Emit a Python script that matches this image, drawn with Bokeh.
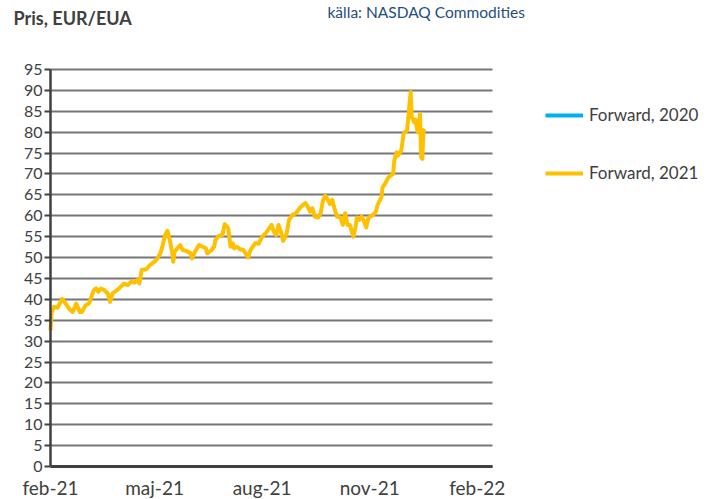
import pandas as pd
from bokeh.plotting import figure
from bokeh.models import (Range1d, FixedTicker, Legend, LegendItem, Label, ColumnDataSource)
from bokeh.embed import file_html
from bokeh.resources import INLINE

# ---- data ----
dates_2021 = [
    "2021-02-01", "2021-02-02", "2021-02-04", "2021-02-07", "2021-02-11", "2021-02-13",
    "2021-02-17", "2021-02-20", "2021-02-23", "2021-02-26", "2021-02-28", "2021-03-03",
    "2021-03-06", "2021-03-10", "2021-03-12", "2021-03-14", "2021-03-16", "2021-03-19",
    "2021-03-22", "2021-03-24", "2021-03-26", "2021-03-30", "2021-04-05", "2021-04-08",
    "2021-04-11", "2021-04-14", "2021-04-16", "2021-04-18", "2021-04-20", "2021-04-24",
    "2021-04-27", "2021-05-01", "2021-05-03", "2021-05-06", "2021-05-08", "2021-05-10",
    "2021-05-12", "2021-05-14", "2021-05-16", "2021-05-17", "2021-05-18", "2021-05-23",
    "2021-05-25", "2021-05-28", "2021-06-01", "2021-06-02", "2021-06-05", "2021-06-08",
    "2021-06-11", "2021-06-14", "2021-06-15", "2021-06-18", "2021-06-21", "2021-06-22",
    "2021-06-25", "2021-06-28", "2021-06-30", "2021-07-02", "2021-07-03", "2021-07-05",
    "2021-07-07", "2021-07-08", "2021-07-10", "2021-07-13", "2021-07-16", "2021-07-20",
    "2021-07-22", "2021-07-26", "2021-07-29", "2021-08-01", "2021-08-04", "2021-08-07",
    "2021-08-09", "2021-08-11", "2021-08-13", "2021-08-15", "2021-08-17", "2021-08-19",
    "2021-08-22", "2021-08-24", "2021-08-27", "2021-08-30", "2021-09-02", "2021-09-05",
    "2021-09-07", "2021-09-09", "2021-09-11", "2021-09-13", "2021-09-15", "2021-09-18",
    "2021-09-20", "2021-09-22", "2021-09-24", "2021-09-26", "2021-09-28", "2021-09-30",
    "2021-10-02", "2021-10-04", "2021-10-07", "2021-10-09", "2021-10-11", "2021-10-13",
    "2021-10-15", "2021-10-18", "2021-10-20", "2021-10-21", "2021-10-23", "2021-10-25",
    "2021-10-27", "2021-10-29", "2021-10-31", "2021-11-03", "2021-11-06", "2021-11-08",
    "2021-11-11", "2021-11-12", "2021-11-14", "2021-11-17", "2021-11-19", "2021-11-21",
    "2021-11-22", "2021-11-24", "2021-11-25", "2021-11-28", "2021-11-30", "2021-12-01",
    "2021-12-03", "2021-12-04", "2021-12-06", "2021-12-07", "2021-12-09", "2021-12-10",
    "2021-12-12", "2021-12-13", "2021-12-14", "2021-12-15", "2021-12-16", "2021-12-17",
    "2021-12-18",
]
values_2021 = [
    32.6, 37.0, 38.2, 38.0, 40.1, 39.4,
    37.7, 37.0, 39.0, 37.0, 37.0, 38.6,
    39.0, 42.2, 42.6, 41.8, 42.6, 42.2,
    41.4, 39.4, 41.4, 42.2, 43.8, 43.4,
    44.2, 44.0, 44.6, 43.8, 47.0, 47.2,
    48.2, 49.0, 49.6, 51.0, 53.0, 55.4,
    56.4, 54.2, 51.4, 49.0, 51.4, 53.0,
    51.8, 51.6, 51.0, 49.8, 51.6, 53.0,
    52.6, 52.2, 51.0, 51.6, 52.6, 54.2,
    55.2, 55.4, 58.0, 57.4, 57.0, 52.6,
    53.4, 52.2, 52.6, 52.0, 51.8, 50.0,
    51.8, 53.4, 53.3, 55.0, 55.8, 57.0,
    57.8, 56.2, 55.4, 57.8, 56.2, 54.0,
    55.8, 59.0, 60.2, 60.6, 61.8, 62.6,
    63.0, 62.2, 61.0, 61.8, 59.8, 59.6,
    60.6, 63.6, 64.8, 64.0, 62.8, 63.8,
    61.6, 59.8, 59.6, 57.8, 60.6, 57.8,
    57.8, 55.0, 57.5, 59.6, 59.0, 59.8,
    58.8, 57.2, 59.6, 60.0, 60.8, 62.8,
    64.4, 66.8, 67.6, 69.2, 69.6, 70.0,
    73.2, 75.2, 74.4, 75.6, 79.6, 80.0,
    80.4, 83.6, 89.6, 83.6, 82.4, 83.0,
    80.0, 82.0, 84.4, 74.0, 73.6, 80.4,
    80.8,
]
# the 2020 series has no visible values in the chart (legend entry only)
dates_2020 = ["2021-02-01"]
values_2020 = [float("nan")]

x_tick_dates = ["2021-02-01", "2021-05-01", "2021-08-01", "2021-11-01", "2022-02-01"]
x_tick_labels = ["feb-21", "maj-21", "aug-21", "nov-21", "feb-22"]
y_ticks = [0, 5, 10, 15, 20, 25, 30, 35, 40, 45, 50, 55, 60, 65, 70, 75, 80, 85, 90, 95]
x_start = "2021-02-01"
x_end = "2022-02-14"
y_min, y_max = 0, 95

title_text = "Pris, EUR/EUA"
source_text = "källa: NASDAQ Commodities"
series_names = ["Forward, 2020", "Forward, 2021"]
series_colors = ["#00B0F0", "#FFC000"]

# ---- layout (pixels) ----
W, H = 705, 499
PL, PR, PT, PB = 50, 492, 69, 466   # plot-area edges inside the canvas
FONT = "Lato"
TXT = "#404040"


def ms(d):
    return int(pd.Timestamp(d).value // 10**6)


x0, x1 = ms(x_start), ms(x_end)
kx = (x1 - x0) / (PR - PL)
ky = (y_max - y_min) / (PB - PT)

p = figure(width=W, height=H, x_axis_type="datetime",
           output_backend="svg", toolbar_location=None, title_location=None,
           x_range=Range1d(x0 - PL * kx, x1 + (W - PR) * kx),
           y_range=Range1d(y_min - (H - PB) * ky, y_max + PT * ky),
           frame_width=W, frame_height=H, min_border=0)
p.outline_line_color = None
p.background_fill_color = "white"
p.border_fill_color = "white"

src21 = ColumnDataSource(dict(x=pd.to_datetime(dates_2021), y=values_2021))
src20 = ColumnDataSource(dict(x=pd.to_datetime(dates_2020), y=values_2020))
r20 = p.line("x", "y", source=src20, line_color=series_colors[0], line_width=4)
r21 = p.line("x", "y", source=src21, line_color=series_colors[1], line_width=4,
             line_join="round")

# axes, pinned to the plot-area edges
xa, ya = p.xaxis[0], p.yaxis[0]
xa.fixed_location = y_min
xa.bounds = (x0, x1)
xa.ticker = FixedTicker(ticks=[ms(d) for d in x_tick_dates])
xa.major_label_overrides = {ms(d): lab for d, lab in zip(x_tick_dates, x_tick_labels)}
xa.major_tick_out = 0
xa.major_tick_in = 0
xa.minor_tick_out = 0
xa.minor_tick_in = 0
xa.axis_line_color = "#404040"
xa.axis_line_width = 3
xa.major_label_standoff = 9
xa.major_label_text_font_size = "19px"

ya.fixed_location = x0
ya.bounds = (y_min, y_max)
ya.ticker = FixedTicker(ticks=y_ticks)
ya.major_tick_out = 6
ya.major_tick_in = 0
ya.minor_tick_out = 0
ya.minor_tick_in = 0
ya.axis_line_color = "#404040"
ya.axis_line_width = 2.5
ya.major_tick_line_color = "#404040"
ya.major_tick_line_width = 2
ya.major_label_standoff = 2
ya.major_label_text_font_size = "16px"
for ax in (xa, ya):
    ax.major_label_text_font = FONT
    ax.major_label_text_color = TXT

p.xgrid.grid_line_color = None
p.ygrid.grid_line_color = "#767676"
p.ygrid.grid_line_width = 2
p.ygrid.bounds = (y_min, y_max)
p.ygrid.cross_bounds = (x0, x1)

# series legend, right of the plot area
legend = Legend(items=[LegendItem(label=series_names[0], renderers=[r20]),
                       LegendItem(label=series_names[1], renderers=[r21])],
                location=(545, H - 183), orientation="vertical",
                padding=0, margin=0, spacing=37,
                glyph_width=38, glyph_height=20, label_height=20,
                label_standoff=6,
                label_text_font=FONT, label_text_font_size="17px",
                label_text_color=TXT,
                border_line_color=None, background_fill_alpha=0)
p.add_layout(legend, "center")

# texts
p.add_layout(Label(x=13, y=H - 17, x_units="screen", y_units="screen",
                   text=title_text, text_font=FONT, text_font_size="18px",
                   text_font_style="bold", text_color=TXT,
                   text_baseline="alphabetic", text_align="left"))
p.add_layout(Label(x=327, y=H - 11.5, x_units="screen", y_units="screen",
                   text=source_text, text_font=FONT, text_font_size="15.5px",
                   text_color="#1F4E79",
                   text_baseline="alphabetic", text_align="left"))

open("out.html", "w").write(file_html(p, INLINE))
